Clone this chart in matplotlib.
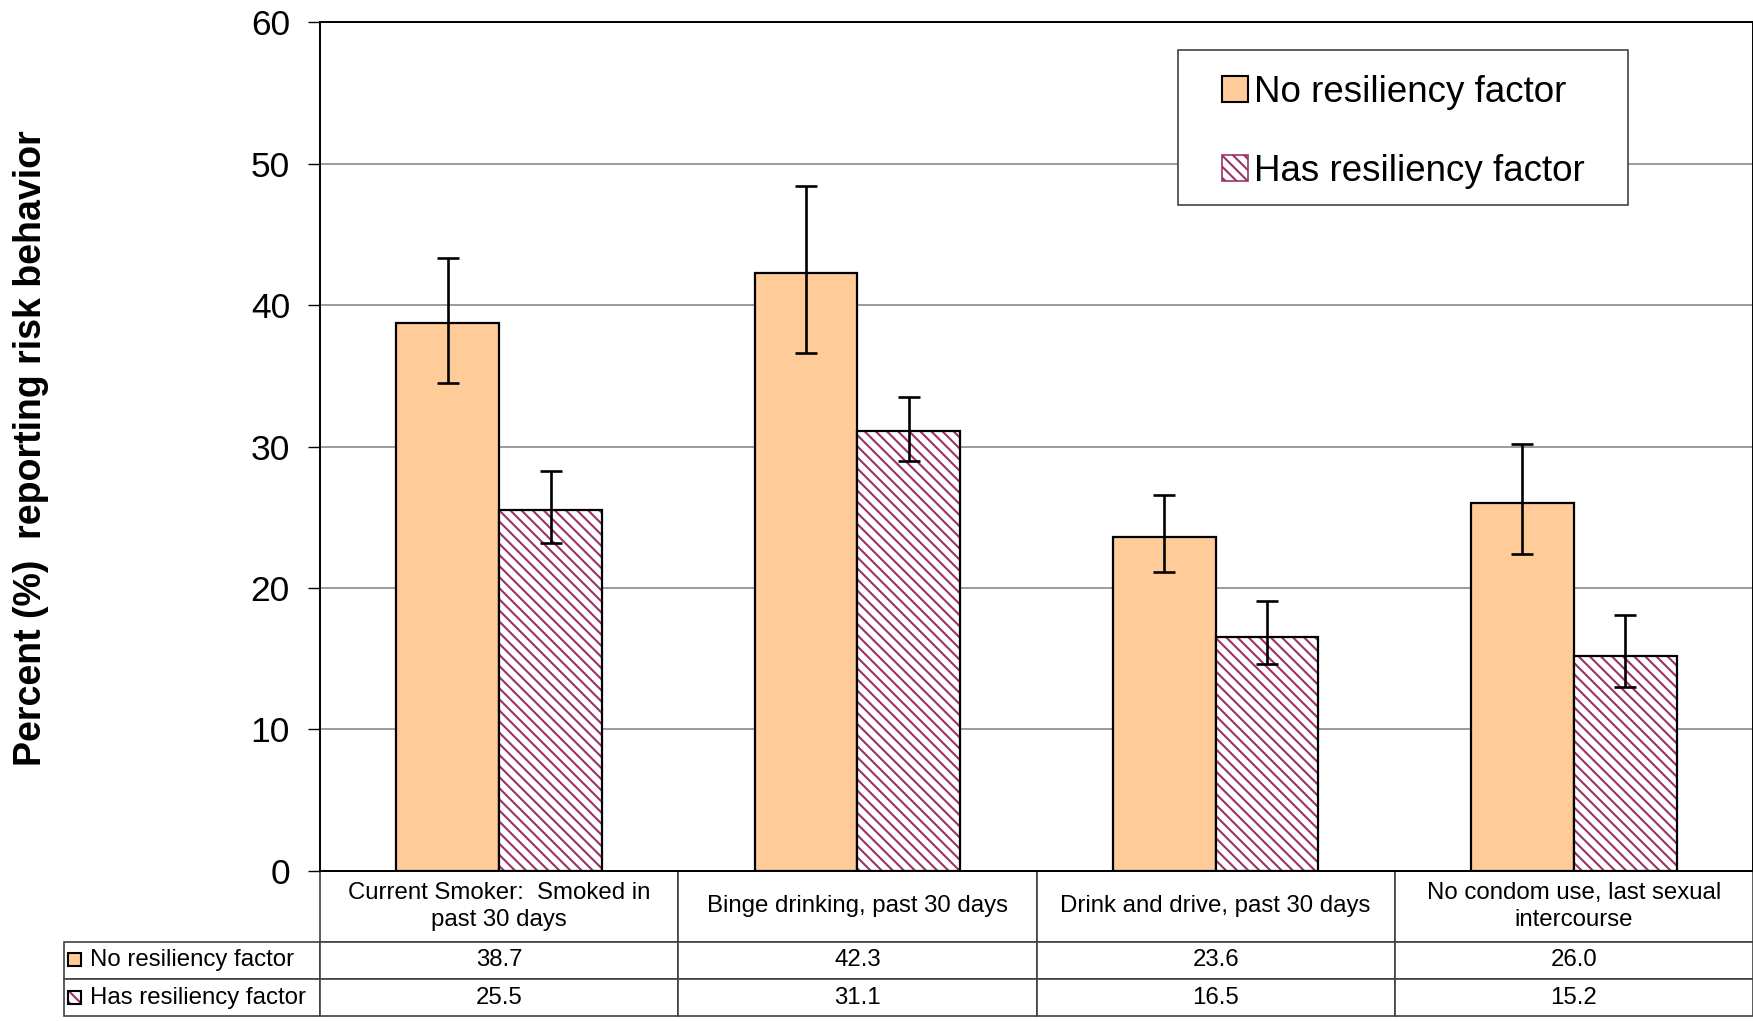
import matplotlib
matplotlib.use('Agg')
import matplotlib.pyplot as plt
import numpy as np
from matplotlib.patches import Patch, Rectangle
from matplotlib.table import Table

# data
categories = ['Current Smoker:  Smoked in\npast 30 days',
              'Binge drinking, past 30 days',
              'Drink and drive, past 30 days',
              'No condom use, last sexual\nintercourse']
series = ['No resiliency factor', 'Has resiliency factor']
no_res = [38.7, 42.3, 23.6, 26.0]
no_lo = [34.5, 36.6, 21.1, 22.4]
no_hi = [43.3, 48.4, 26.6, 30.2]
has_res = [25.5, 31.1, 16.5, 15.2]
has_lo = [23.2, 29.0, 14.6, 13.0]
has_hi = [28.3, 33.5, 19.1, 18.1]
yticks = [0, 10, 20, 30, 40, 50, 60]

orange = '#FFCC99'
plum = '#993366'

plt.rcParams['font.family'] = ['Liberation Sans', 'DejaVu Sans']
plt.rcParams['hatch.linewidth'] = 1.5

fig = plt.figure(figsize=(17.53, 10.21), dpi=100)
ax = fig.add_axes([320/1753, 1 - 870.7/1021, 1433/1753, 848.4/1021])

x = np.arange(len(no_res))
w = 0.287

# bars
ax.bar(x - w/2, no_res, w, color=orange, edgecolor='black', lw=1.6, zorder=2)
ax.bar(x + w/2, has_res, w, color='white', edgecolor=plum, hatch='\\\\\\', lw=0, zorder=2)
ax.bar(x + w/2, has_res, w, fill=False, edgecolor='black', lw=1.6, zorder=3)

# error bars
no_err = [np.array(no_res) - np.array(no_lo), np.array(no_hi) - np.array(no_res)]
has_err = [np.array(has_res) - np.array(has_lo), np.array(has_hi) - np.array(has_res)]
ax.errorbar(x - w/2, no_res, yerr=no_err, fmt='none', ecolor='black',
            elinewidth=1.9, capsize=8, capthick=1.9, zorder=4)
ax.errorbar(x + w/2, has_res, yerr=has_err, fmt='none', ecolor='black',
            elinewidth=1.9, capsize=8, capthick=1.9, zorder=4)

ax.set_xlim(-0.5, len(no_res) - 0.5)
ax.set_ylim(0, 60)
ax.set_yticks(yticks)
ax.set_yticklabels([str(t) for t in yticks], fontsize=25.5)
ax.tick_params(axis='y', length=8.6, width=1, pad=13, direction='out')
ax.set_xticks([])
ax.yaxis.grid(True, color='#808080', lw=1.1)
ax.set_axisbelow(True)
for s in ax.spines.values():
    s.set_color('black')
    s.set_linewidth(1.4)

fig.text(31/1753, 1 - 448/1021, 'Percent (%)  reporting risk behavior',
         rotation=90, ha='center', va='center', fontsize=27, fontweight='bold')

# legend: frame drawn separately, handles inside
ax.add_patch(Rectangle((0.5987, 0.7847), 0.3141, 0.1826, transform=ax.transAxes,
                       facecolor='white', edgecolor='#333333', lw=1.1, zorder=5))
handles = [Patch(facecolor=orange, edgecolor='black', lw=1.5),
           (Patch(facecolor='white', edgecolor=plum, hatch='\\\\\\', lw=0),
            Patch(fill=False, edgecolor=plum, lw=1.2))]
leg = ax.legend(handles, series, loc='upper left', bbox_to_anchor=(0.6294, 0.938),
                frameon=False, fontsize=26.5, borderpad=0, borderaxespad=0,
                handlelength=0.72, handleheight=0.72, handletextpad=0.15,
                labelspacing=1.2)
leg.set_zorder(6)

# data table under the axes
w0 = 256/1433
tab = Table(ax, bbox=[-w0, -0.1713, 1 + w0, 0.1713])
hh, rh = 0.49, 0.255
edge = '#404040'
c = tab.add_cell(0, 0, w0, hh, text='', loc='center')
c.visible_edges = ''
for j, cat in enumerate(categories):
    tab.add_cell(0, j + 1, 0.25, hh, text=cat, loc='center', edgecolor=edge)
for i, (name, vals) in enumerate(zip(series, [no_res, has_res])):
    tab.add_cell(i + 1, 0, w0, rh, text=name, loc='left', edgecolor=edge)
    for j, v in enumerate(vals):
        tab.add_cell(i + 1, j + 1, 0.25, rh, text=f'{v:.1f}', loc='center', edgecolor=edge)
tab.auto_set_font_size(False)
tab.set_fontsize(17.3)
for cell in tab.get_celld().values():
    cell.set_linewidth(1.2)
    cell.get_text().set_linespacing(1.3)
ax.add_table(tab)

# small keys in the row labels
fig.add_artist(Rectangle((68/1753, 1 - 966/1021), 13/1753, 13/1021,
                         facecolor=orange, edgecolor='black', lw=1.5))
fig.add_artist(Rectangle((68/1753, 1 - 1004/1021), 13/1753, 13/1021,
                         facecolor='white', edgecolor=plum, hatch='\\\\\\', lw=0))
fig.add_artist(Rectangle((68/1753, 1 - 1004/1021), 13/1753, 13/1021,
                         fill=False, edgecolor='black', lw=1.5))

fig.savefig('out.png', dpi=100)
